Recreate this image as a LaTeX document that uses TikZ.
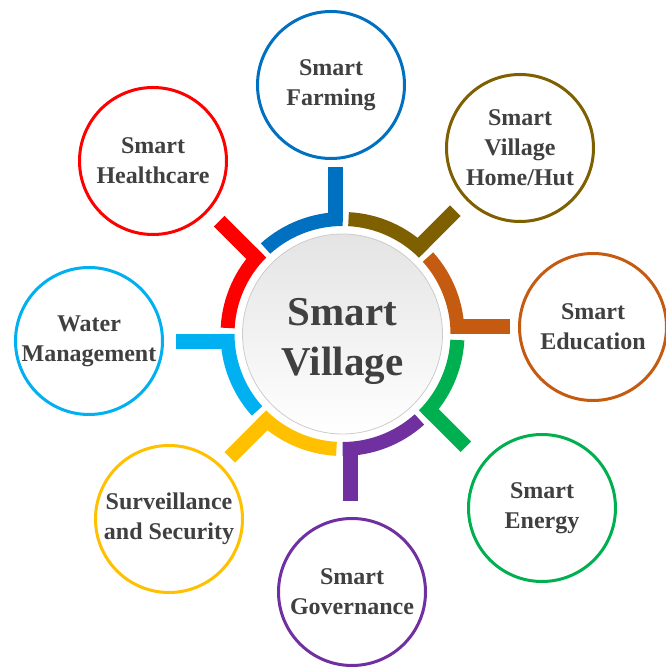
\documentclass[tikz,border=0pt]{standalone}
\usepackage{fontspec}
\setmainfont{Liberation Serif}
\definecolor{cblue}{HTML}{0070C0}
\definecolor{cbrown}{HTML}{7F6000}
\definecolor{corange}{HTML}{C55A11}
\definecolor{cgreen}{HTML}{00B050}
\definecolor{cpurple}{HTML}{7030A0}
\definecolor{cyellow}{HTML}{FFC000}
\definecolor{ccyan}{HTML}{00B0F0}
\definecolor{cred}{HTML}{FF0000}
\definecolor{txt}{HTML}{404040}
\definecolor{hubtop}{HTML}{E4E4E4}
\begin{document}
\begin{tikzpicture}[x=1pt,y=1pt,
  sat/.style={circle, draw=#1, line width=3pt, minimum size=147pt, inner sep=0pt, fill=white},
  satlbl/.style={font=\bfseries\fontsize{24}{30}\selectfont, text=txt, align=center, inner sep=0pt},
  hub/.style={circle, minimum size=200pt, inner sep=0pt, top color=hubtop, bottom color=white, draw=gray!40, line width=0.8pt},
  hublbl/.style={font=\bfseries\fontsize{41}{50}\selectfont, text=txt, align=center, inner sep=0pt}]
\useasboundingbox (0,0) rectangle (666,669);
\coordinate (c) at (342.5,335);
% ring segments with stems
\foreach \a/\col in {90/cblue,45/cbrown,0/corange,-45/cgreen,-90/cpurple,-135/cyellow,180/ccyan,135/cred}{
  \begin{scope}[shift={(c)}, rotate=\a]
    \fill[\col] (0:108pt) -- (0:122pt) arc[start angle=0, end angle=42, radius=122pt]
      -- (42:108pt) arc[start angle=42, end angle=0, radius=108pt] -- cycle;
    \fill[\col] (112pt,0pt) rectangle (167pt,15pt);
  \end{scope}
}
% hub
\node[hub] (hub) at (c) {};
\node[hublbl] (hubt) at (342.5,328) {Smart\\Village};
% satellites
\node[sat=cblue]   (farm) at (331,584) {};
\node[sat=cbrown]  (home) at (520,521) {};
\node[sat=corange] (edu)  at (593,342) {};
\node[sat=cgreen]  (ener) at (542,161) {};
\node[sat=cpurple] (gov)  at (352,77)  {};
\node[sat=cyellow] (surv) at (169,150) {};
\node[sat=ccyan]   (water) at (89,328) {};
\node[sat=cred]    (heal) at (153,508) {};
\node[satlbl] at (farm)  {Smart\\Farming};
\node[satlbl] at (home)  {Smart\\Village\\Home/Hut};
\node[satlbl] at (edu)   {Smart\\Education};
\node[satlbl] at (ener)  {Smart\\Energy};
\node[satlbl] at (gov)   {Smart\\Governance};
\node[satlbl] at (surv)  {Surveillance\\and Security};
\node[satlbl] at (water) {Water\\Management};
\node[satlbl] at (heal)  {Smart\\Healthcare};
\end{tikzpicture}
\end{document}
